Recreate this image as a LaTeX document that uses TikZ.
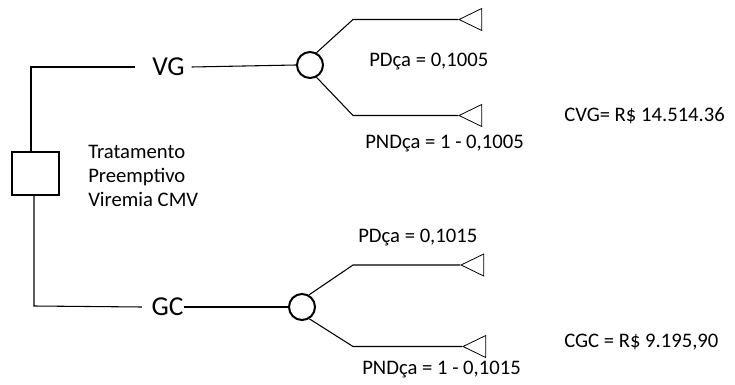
\documentclass[tikz,border=0pt]{standalone}
\usepackage{fontspec}
\setmainfont{Carlito}
\usetikzlibrary{shapes.geometric}
\begin{document}
\begin{tikzpicture}[x=0.75pt,y=-0.75pt,
  thin line/.style={line width=0.8pt,black},
  chance/.style={circle,draw,line width=1.5pt,minimum size=19.5pt,inner sep=0pt},
  decision/.style={rectangle,draw,line width=1.5pt,minimum width=35pt,minimum height=32pt,inner sep=0pt},
  endnode/.style={isosceles triangle,isosceles triangle stretches,shape border rotate=180,draw,line width=0.6pt,minimum width=16.5pt,minimum height=17pt,inner sep=0pt},
  lbl/.style={inner sep=0pt,font=\fontsize{15.5}{18}\selectfont},
  big/.style={font=\fontsize{20.5}{24}\selectfont,inner sep=0pt}
]
\useasboundingbox (0,0) rectangle (735,385);
% decision node
\node[decision] (dec) at (35.5,173.5) {};
\coordinate (tl) at (31,67);
\coordinate (bl) at (34,306);
\node[big] (vg) at (168.5,67) {VG};
\node[big] (gc) at (167.5,307) {GC};
\node[chance] (c1) at (310,65) {};
\node[chance] (c2) at (302,307) {};
\draw[thin line] (dec.north -| tl) -- (tl) -- ([xshift=-12.5pt]vg.west);
\draw[thin line] ([xshift=5pt]vg.east) -- (c1.west);
\draw[thin line] (dec.south -| bl) -- (bl) -- ([xshift=-7pt]gc.west);
\draw[thin line] (gc.east) -- (c2.west);
% terminal nodes
\node[endnode,anchor=apex] (e1) at (458,19.5) {};
\node[endnode,anchor=apex] (e2) at (458,115.5) {};
\node[endnode,anchor=apex] (e3) at (460,265) {};
\node[endnode,anchor=apex] (e4) at (462,346.5) {};
\coordinate (k1) at (353,19.5);
\coordinate (k2) at (353,115.5);
\coordinate (k3) at (353,265);
\coordinate (k4) at (353,346.5);
\draw[thin line] (c1.62) -- (k1) -- (e1.apex);
\draw[thin line] (c1.-62) -- (k2) -- (e2.apex);
\draw[thin line] (c2.60) -- (k3) -- (e3.apex);
\draw[thin line] (c2.-58) -- (k4) -- (e4.apex);
% labels
\node[lbl,anchor=west] (p1) at (369,62) {PDça = 0,1005};
\node[lbl,anchor=west] (p2) at (365,144) {PNDça = 1 - 0,1005};
\node[lbl,anchor=west] (p3) at (358,238) {PDça = 0,1015};
\node[lbl,anchor=west] (p4) at (362,370) {PNDça = 1 - 0,1015};
\node[lbl,anchor=west] (cvg) at (564,116) {CVG= R\$ 14.514.36};
\node[lbl,anchor=west] (cgc) at (564,342) {CGC = R\$ 9.195,90};
\node[lbl,anchor=west,align=left] (trat) at (88,176) {Tratamento\\Preemptivo\\Viremia CMV};
\end{tikzpicture}
\end{document}
